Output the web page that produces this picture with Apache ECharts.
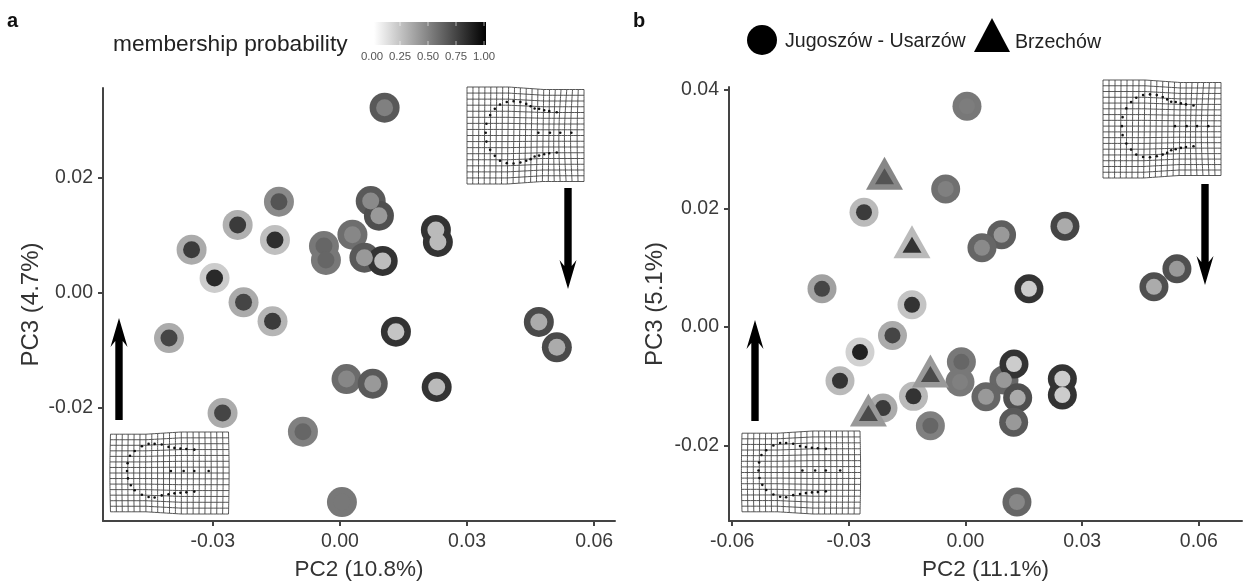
<!DOCTYPE html>
<html><head><meta charset="utf-8">
<style>html,body{margin:0;padding:0;background:#fff}#c{width:1248px;height:582px;filter:blur(0.55px)}</style>
<script src="https://cdn.jsdelivr.net/npm/echarts@6/dist/echarts.min.js"></script>
</head><body><div id="c"></div>
<script>
// Panel a
const aPC2 = [0.01054,-0.01439,-0.02413,-0.01533,-0.035,-0.02958,0.00726,0.0092,0.00295,-0.00377,-0.0033,0.00578,0.01009,0.02264,0.02311,-0.02274,-0.0159,-0.04033,0.01321,0.04693,0.05118,0.00156,0.00774,0.02283,-0.02769,-0.00873,0.00047];
const aPC3 = [0.03223,0.01588,0.01183,0.00922,0.00753,0.00261,0.016,0.01344,0.01014,0.00817,0.00574,0.00614,0.00557,0.01096,0.00887,-0.00162,-0.00492,-0.00783,-0.00673,-0.00504,-0.00944,-0.01496,-0.01577,-0.01635,-0.02087,-0.02412,-0.03635];
const aRing = [0.65,0.46,0.31,0.25,0.33,0.2,0.65,0.69,0.57,0.53,0.53,0.65,0.8,0.8,0.8,0.33,0.29,0.33,0.8,0.71,0.71,0.58,0.65,0.8,0.33,0.5,0.53];
const aCore = [0.5,0.67,0.77,0.82,0.77,0.84,0.46,0.4,0.47,0.6,0.6,0.4,0.26,0.27,0.27,0.73,0.77,0.73,0.23,0.33,0.33,0.47,0.4,0.27,0.73,0.6,0.53];
// Panel b, Jugoszów - Usarzów
const bCirclePC2 = [0.00039,-0.00509,-0.02609,0.00928,0.00424,0.02558,0.05437,0.04846,0.01632,-0.03689,-0.01375,-0.01877,-0.02712,-0.03226,-0.00105,-0.00141,0.0099,0.00527,0.01342,0.01239,0.01247,0.02491,0.02491,-0.02121,-0.01337,-0.00902,0.01324];
const bCirclePC3 = [0.03725,0.02331,0.01938,0.01556,0.01337,0.01702,0.00983,0.00679,0.00646,0.00646,0.00376,-0.0014,-0.00421,-0.00905,-0.00585,-0.00927,-0.00893,-0.01175,-0.01192,-0.01606,-0.00624,-0.00871,-0.01146,-0.01365,-0.01168,-0.01664,-0.0295];
const bCircleRing = [0.53,0.56,0.27,0.63,0.6,0.73,0.69,0.69,0.8,0.37,0.23,0.33,0.18,0.27,0.53,0.53,0.6,0.6,0.69,0.65,0.8,0.8,0.8,0.33,0.27,0.5,0.6];
const bCircleCore = [0.51,0.5,0.77,0.4,0.46,0.33,0.4,0.33,0.2,0.73,0.8,0.73,0.87,0.8,0.6,0.5,0.4,0.4,0.33,0.4,0.2,0.2,0.2,0.77,0.8,0.6,0.47];
// Panel b, Brzechów
const bTrianglePC2 = [-0.02082,-0.01375,-0.00902,-0.02496];
const bTrianglePC3 = [0.02596,0.01438,-0.00742,-0.01399];
const bTriangleRing = [0.47,0.27,0.4,0.4];
const bTriangleCore = [0.67,0.8,0.71,0.71];
// Tick labels and names
const tickA_x = [-0.03,0,0.03,0.06];
const tickA_y = [-0.02,0,0.02];
const tickB_x = [-0.06,-0.03,0,0.03,0.06];
const tickB_y = [-0.02,0,0.02,0.04];
const colorTicks = [0,0.25,0.5,0.75,1];
const nameCircle = 'Jugoszów - Usarzów', nameTriangle = 'Brzechów';
// Landmarks of the deformation insets (normalised 0-1 in each inset)
const shapeUp = [[.767,.26],[.703,.249],[.66,.239],[.616,.225],[.578,.222],[.544,.198],[.506,.174],[.456,.154],[.398,.147],[.34,.154],[.282,.181],[.238,.225],[.198,.29],[.166,.379],[.16,.471],[.166,.563],[.198,.648],[.238,.71],[.282,.761],[.34,.785],[.398,.788],[.456,.778],[.506,.761],[.544,.744],[.578,.717],[.616,.707],[.66,.693],[.703,.683],[.767,.676],[.61,.471],[.709,.471],[.797,.471],[.892,.471]];
const shapeDown = [[.71,.215],[.643,.207],[.593,.203],[.542,.194],[.492,.182],[.434,.153],[.374,.145],[.323,.145],[.266,.174],[.205,.232],[.165,.29],[.145,.38],[.14,.475],[.148,.566],[.172,.649],[.205,.711],[.266,.765],[.323,.793],[.374,.798],[.434,.773],[.492,.76],[.542,.748],[.593,.74],[.643,.736],[.71,.727],[.512,.475],[.62,.475],[.71,.475],[.832,.475]];

function pts(x,y,p){return x.map((v,i)=>[v,y[i],p[i]]);}
const mk = (name,x,y,p,xi,sym,size,extra)=>Object.assign({name,type:'scatter',xAxisIndex:xi,yAxisIndex:xi,symbol:sym,symbolSize:size,data:pts(x,y,p),silent:true,animation:false,itemStyle:{opacity:1}},extra||{});
const series = [
  mk('a ring',aPC2,aPC3,aRing,0,'circle',30,{z:2}),
  mk('a core',aPC2,aPC3,aCore,0,'circle',17,{z:3}),
  mk(nameCircle,bCirclePC2,bCirclePC3,bCircleRing,1,'circle',29,{z:2}),
  mk('b core',bCirclePC2,bCirclePC3,bCircleCore,1,'circle',16,{z:3}),
  mk(nameTriangle,bTrianglePC2,bTrianglePC3,bTriangleRing,1,'triangle',[37,33],{z:4}),
  mk('b tri core',bTrianglePC2,bTrianglePC3,bTriangleCore,1,'triangle',[19,16],{z:5,symbolOffset:[0,3]})
];
const fmt = v=>v.toFixed(2);
const axisBase = {
  type:'value',splitLine:{show:false},
  axisLine:{show:true,onZero:false,lineStyle:{color:'#444',width:2}},
  axisTick:{show:true,length:5,lineStyle:{color:'#444',width:2}},
  nameLocation:'middle'
};
const xAx=(gi,min,max,ticks,name)=>Object.assign({},axisBase,{gridIndex:gi,min,max,name,nameGap:37,position:'bottom',
  nameTextStyle:{fontFamily:'Liberation Sans',fontSize:22.5,color:'#333'},
  axisTick:Object.assign({},axisBase.axisTick,{customValues:ticks}),
  axisLabel:{customValues:ticks,formatter:fmt,fontFamily:'Liberation Sans',fontSize:19.5,color:'#3a3a3a',margin:11}});
const yAx=(gi,min,max,ticks,name,gap)=>Object.assign({},axisBase,{gridIndex:gi,min,max,name,nameGap:gap,position:'left',nameRotate:90,
  nameTextStyle:{fontFamily:'Liberation Sans',fontSize:24,color:'#333'},
  axisTick:Object.assign({},axisBase.axisTick,{customValues:ticks}),
  axisLabel:{customValues:ticks,formatter:fmt,fontFamily:'Liberation Sans',fontSize:19.5,color:'#3a3a3a',margin:10}});

// Insets
function inset(box,shape,warp){
  const [x0,y0,w,h]=box, cols=20, rows=Math.round(h/5.9), els=[];
  const P=(u,v)=>{const d=warp(u,v);return [x0+u*w+d[0],y0+v*h+d[1]];};
  for(let r=0;r<=rows;r++){const p=[];for(let k=0;k<=40;k++)p.push(P(k/40,r/rows));
    els.push({type:'polyline',z:10,shape:{points:p},style:{stroke:'#444',lineWidth:.9,fill:'none'}});}
  for(let c=0;c<=cols;c++){const p=[];for(let k=0;k<=40;k++)p.push(P(c/cols,k/40));
    els.push({type:'polyline',z:10,shape:{points:p},style:{stroke:'#444',lineWidth:.9,fill:'none'}});}
  shape.forEach(s=>els.push({type:'circle',z:11,shape:{cx:x0+s[0]*w,cy:y0+s[1]*h,r:1.3},style:{fill:'#111'}}));
  return els;
}
const warpUp=(u,v)=>{const t=Math.max(0,Math.min(1,(u-.35)/.3));return [1.5*Math.sin(Math.PI*u)*(v-.5)*-1+(u>.7?-2*Math.sin(Math.PI*(u-.7)/.3)*Math.sin(Math.PI*v):0),(1-2*v)*2.5*t];};
const warpDown=(u,v)=>{const t=Math.max(0,Math.min(1,(.6-u)/.3));return [1.2*Math.sin(Math.PI*v)*(u-.5),(1-2*v)*2.2*t];};
function arrow(cx,tip,tail,up){
  const s=up?1:-1, hw=8.5, sw=3.7, head=29, notch=23;
  return {type:'polygon',z:10,shape:{points:[[cx,tip],[cx+hw,tip+s*head],[cx+sw,tip+s*notch],[cx+sw,tail],[cx-sw,tail],[cx-sw,tip+s*notch],[cx-hw,tip+s*head]]},style:{fill:'#000'}};
}
const barX=374,barW=112,barY=22,barH=23,scale0=372,scale1=484;
const graphic=[
  {type:'text',left:7,top:11,style:{text:'a',font:'bold 20px "Liberation Sans"',fill:'#111'}},
  {type:'text',left:633,top:11,style:{text:'b',font:'bold 20px "Liberation Sans"',fill:'#111'}},
  {type:'text',left:113,top:33,style:{text:'membership probability',font:'22.7px "Liberation Sans"',fill:'#222'}},
  {type:'rect',shape:{x:barX,y:barY,width:barW,height:barH},style:{fill:new echarts.graphic.LinearGradient(0,0,1,0,[{offset:0,color:'#fff'},{offset:1,color:'#000'}])}},
  ...colorTicks.flatMap(t=>{const x=scale0+t*(scale1-scale0);return [
    {type:'line',shape:{x1:x,y1:barY,x2:x,y2:barY+4},style:{stroke:'#fff',lineWidth:1,opacity:.6}},
    {type:'line',shape:{x1:x,y1:barY+barH-4,x2:x,y2:barY+barH},style:{stroke:'#fff',lineWidth:1,opacity:.6}},
    {type:'text',x:x,y:57,style:{text:t.toFixed(2),font:'11.4px "Liberation Sans"',fill:'#555',textAlign:'center',textVerticalAlign:'middle'}}];}),
  ...inset([467,87,117,97],shapeUp,warpUp),
  ...inset([110.5,432,118,82],shapeDown,warpDown),
  ...inset([1103,80,118,98],shapeUp,warpUp),
  ...inset([742,431,118,83],shapeDown,warpDown),
  arrow(568,289,188,false),arrow(119,318,420,true),arrow(1205,285,184,false),arrow(755,320,421,true)
];
const legendBase={selectedMode:false,orient:'horizontal'};
const legendText=(pad)=>({fontFamily:'Liberation Sans',fontSize:19.6,color:'#222',rich:{t:{fontFamily:'Liberation Sans',fontSize:19.6,color:'#222',padding:pad}}});
const option={
  backgroundColor:'#fff',animation:false,
  grid:[{left:103,right:1248-615,top:88,bottom:582-521,outerBoundsMode:'none'},{left:729,right:1248-1242,top:87,bottom:582-521,outerBoundsMode:'none'}],
  xAxis:[xAx(0,-0.0559,0.0649,tickA_x,'PC2 (10.8%)'),xAx(1,-0.0608,0.0711,tickB_x,'PC2 (11.1%)')],
  yAxis:[yAx(0,-0.03965,0.03565,tickA_y,'PC3 (4.7%)',60),yAx(1,-0.0327,0.0405,tickB_y,'PC3 (5.1%)',62)],
  visualMap:{show:false,type:'continuous',min:0,max:1,dimension:2,seriesIndex:[0,1,2,3,4,5],inRange:{color:['#ffffff','#000000']}},
  legend:[
    Object.assign({},legendBase,{left:742,top:20,itemWidth:30,itemHeight:30,formatter:'{t|{name}}',textStyle:legendText([4,0,0,3]),data:[{name:nameCircle,icon:'circle',itemStyle:{color:'#000'}}]}),
    Object.assign({},legendBase,{left:969,top:13,itemWidth:36,itemHeight:34,formatter:'{t|{name}}',textStyle:legendText([16,0,0,0]),data:[{name:nameTriangle,icon:'triangle',itemStyle:{color:'#000'}}]})
  ],
  series,graphic
};
echarts.init(document.getElementById('c'),null,{renderer:'canvas'}).setOption(option);
</script></body></html>
